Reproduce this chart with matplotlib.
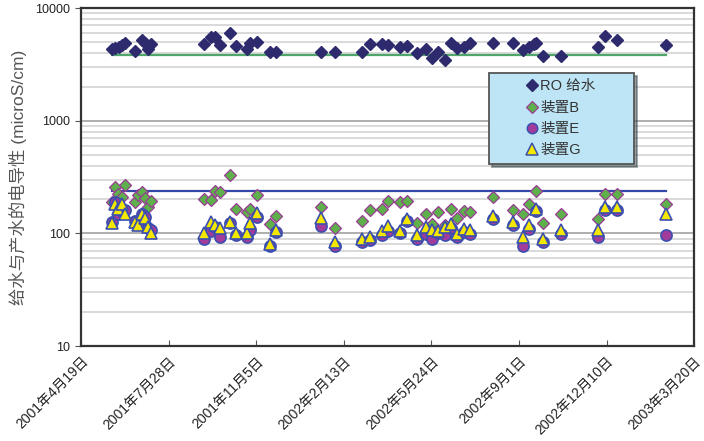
import matplotlib
matplotlib.use("Agg")
import matplotlib.pyplot as plt
from matplotlib.lines import Line2D
from matplotlib.ticker import LogLocator, NullFormatter, FixedLocator

plt.rcParams['font.family'] = ['Liberation Sans', 'Noto Sans CJK SC', 'DejaVu Sans']

# ---------------- data (days after 2001-04-19) ----------------
ro_days = [35, 39, 43, 47, 50, 62, 70, 73, 80, 77,
           140, 149, 153, 159, 170, 177, 189, 193, 201, 216, 223,
           274, 290, 321, 330, 344, 351, 364, 372, 384, 394, 401, 408, 416,
           422, 429, 437, 444, 470, 493, 505, 512, 517, 520, 527, 548,
           590, 598, 612, 668]
ro_feed = [4295, 4385, 4530, 4690, 4912, 4145, 5190, 4912, 4785, 4295,
           4785, 5560, 5485, 4690, 5955, 4595, 4295, 4855, 5010, 4085, 4085,
           4085, 4085, 4085, 4785, 4785, 4690, 4530, 4595, 4000, 4295, 3570, 4085, 3450,
           4855, 4385, 4530, 4912, 4855, 4912, 4230, 4530, 4785, 4912, 3740, 3740,
           4530, 5635, 5190, 4690]

unit_days = [35, 39, 42, 47, 50, 62, 65, 70, 73, 77, 80,
             140, 149, 153, 159, 170, 177, 189, 193, 201, 216, 223,
             274, 290, 321, 330, 344, 351, 364, 372, 384, 394, 401, 408, 416,
             422, 429, 437, 444, 470, 493, 505, 512, 520, 527, 548,
             590, 598, 612, 668]
unit_b = [188, 256, 222, 209, 267, 188, 217, 231, 204, 170, 192,
          200, 196, 237, 234, 329, 166, 155, 166, 217, 120, 144,
          170, 111, 129, 161, 163, 193, 191, 193, 123, 147, 120, 155, 118,
          163, 138, 158, 155, 212, 161, 147, 181, 237, 124, 150,
          135, 222, 222, 181]
unit_e = [125, 188, 147, 157, 160, 128, 123, 150, 139, 111, 106,
          90, 105, 113, 92, 124, 96, 93.5, 107, 140, 77, 103,
          116, 77, 84, 87, 96, 105, 101, 129, 88.5, 98, 90, 101, 96,
          112, 93.5, 103, 98, 133, 118, 78, 110, 158, 84, 98,
          93.5, 161, 161, 96]
unit_g = [123, 181, 163, 181, 150, 125, 118, 147, 136, 115, 100,
          100, 126, 118, 111, 126, 100, 100, 123, 153, 80, 107,
          138, 84, 88.5, 92, 105, 116, 105, 135, 96, 115, 108, 105, 115,
          120, 98, 110, 108, 142, 126, 93.5, 118, 166, 88.5, 108,
          108, 173, 173, 150]

feed_ref_level = 3850
unit_ref_level = 240
ref_span = [35, 668]

x_ticks = [0, 100, 200, 300, 400, 500, 600, 700]
x_labels = ['2001年4月19日', '2001年7月28日', '2001年11月5日', '2002年2月13日',
            '2002年5月24日', '2002年9月1日', '2002年12月10日', '2003年3月20日']
series_names = ['RO 给水', '装置B', '装置E', '装置G']
y_label = '给水与产水的电导性 (microS/cm)'

# ---------------- figure ----------------
fig = plt.figure(figsize=(7.04, 4.41), dpi=100)
ax = fig.add_axes([0.115, 0.2154, 0.871, 0.7664])
ax.set_yscale('log')
ax.set_ylim(10, 10000)
ax.set_xlim(0, 700)

ax.yaxis.set_major_locator(FixedLocator([10, 100, 1000, 10000]))
ax.yaxis.set_minor_locator(LogLocator(base=10, subs=range(2, 10)))
ax.yaxis.set_minor_formatter(NullFormatter())
ax.set_yticklabels(['10', '100', '1000', '10000'])
ax.grid(True, which='major', axis='y', color='#A8A8A8', lw=1.3, zorder=0)
ax.grid(True, which='minor', axis='y', color='#CFCFCF', lw=1.1, zorder=0)
ax.set_axisbelow(True)

ax.set_xticks(x_ticks)
ax.set_xticklabels(x_labels, rotation=45, ha='right', va='top',
                   rotation_mode='anchor', fontsize=10, color='#222222')
ax.tick_params(axis='x', direction='in', length=4, width=0.8, colors='#555555',
               labelcolor='#222222', pad=6)
ax.tick_params(axis='y', which='major', length=4, width=0.8, colors='#555555',
               labelcolor='#222222', labelsize=9)
ax.tick_params(axis='y', which='minor', length=0)
for s in ax.spines.values():
    s.set_color('#333333')
    s.set_linewidth(1.6)

# reference lines
ax.plot(ref_span, [feed_ref_level] * 2, color='#4FA66A', lw=1.6, zorder=2)
ax.plot(ref_span, [unit_ref_level] * 2, color='#3347A8', lw=1.6, zorder=2)

edge_blue = '#3B4FB0'
ax.plot(ro_days, ro_feed, ls='none', marker='D', ms=6.5, color='#2D2B6E',
        mec='#2D2B6E', zorder=3)
ax.plot(unit_days, unit_b, ls='none', marker='D', ms=6.5, color='#5DB04A',
        mec='#9A3C95', mew=0.9, zorder=3)
ax.plot(unit_days, unit_e, ls='none', marker='o', ms=8, color='#A23C9B',
        mec=edge_blue, mew=1.2, zorder=4)
ax.plot(unit_days, unit_g, ls='none', marker='^', ms=8.5, color='#F4E800',
        mec=edge_blue, mew=1.2, zorder=5)

ax.set_ylabel(y_label, fontsize=12.5, color='#555555', labelpad=6)

handles = [
    Line2D([], [], ls='none', marker='D', ms=6, color='#2D2B6E'),
    Line2D([], [], ls='none', marker='D', ms=6, color='#5DB04A', mec='#9A3C95', mew=0.9),
    Line2D([], [], ls='none', marker='o', ms=7.5, color='#A23C9B', mec=edge_blue, mew=1.1),
    Line2D([], [], ls='none', marker='^', ms=8, color='#F4E800', mec=edge_blue, mew=1.1),
]
leg = ax.legend(handles, series_names, loc='upper left',
                bbox_to_anchor=(0.666, 0.538, 0.236, 0.27), mode='expand',
                borderaxespad=0, fontsize=10.5, frameon=True, fancybox=False,
                shadow=True, handlelength=5.0, handletextpad=-1.95,
                labelspacing=0.5, borderpad=0.45)
fr = leg.get_frame()
fr.set_facecolor('#BDE5F6')
fr.set_edgecolor('#555555')
fr.set_linewidth(1.3)
fr.set_alpha(1)
for t in leg.get_texts():
    t.set_color('#333333')

fig.savefig('out.png', dpi=100, facecolor='white')
